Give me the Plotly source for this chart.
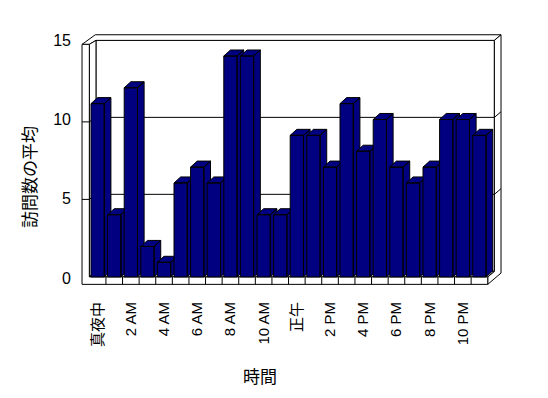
import plotly.graph_objects as go

# ---- data ----
hours = list(range(24))
avg_visits = [11, 4, 12, 2, 1, 6, 7, 6, 14, 14, 4, 4, 9, 9, 7, 11, 8, 10, 7, 6, 7, 10, 10, 9]
tick_pos = [0, 2, 4, 6, 8, 10, 12, 14, 16, 18, 20, 22]
tick_labels = ["真夜中", "2 AM", "4 AM", "6 AM", "8 AM", "10 AM", "正午",
               "2 PM", "4 PM", "6 PM", "8 PM", "10 PM"]
y_ticks = [0, 5, 10, 15]
x_title = "時間"
y_title = "訪問数の平均"

# ---- style / geometry ----
NAVY = "#000080"
W, H = 548, 398
OFF = 8  # page body margin
ML, MR, MT, MB = 78 - OFF, 42 + OFF, 28 - OFF, 106 + OFF
X_RANGE = [-1.183, 24.6]
Y_RANGE = [-0.87, 15.766]
FONT = "Liberation Sans, Noto Sans CJK JP, sans-serif"

N = len(hours)
XL, XR = -0.5, N - 0.5
LW, FT, VMAX = 0.44, 0.48, 15
DXZ, DYZ, Y0 = 0.40, 0.355, 0.08
BAR_HALF, BDX, BDY = 0.4, 0.40, 0.38


def P(x, v, z):
    zc = min(z, 1)
    return (x + DXZ * z, Y0 + DYZ * z + v * (0.977 - 0.007 * zc))


fig = go.Figure()


def face(pts, fill=True):
    xy = [P(*p) for p in pts]
    if fill:
        xy.append(xy[0])
    xs = [a for a, b in xy]
    ys = [b for a, b in xy]
    fig.add_trace(go.Scatter(
        x=xs, y=ys, mode="lines",
        fill="toself" if fill else None, fillcolor="white",
        line=dict(color="black", width=1),
        hoverinfo="skip", showlegend=False))


# back wall inner face
face([(XL, 0, 1), (XR, 0, 1), (XR, VMAX, 1), (XL, VMAX, 1)])
# top faces (left wall + back wall)
face([(XL - LW, VMAX, 0), (XL, VMAX, 0), (XL, VMAX, 1), (XR, VMAX, 1),
      (XR, VMAX, 2), (XL - LW, VMAX, 2)])
# right end face of floor + back wall
face([(XR, -FT, 0), (XR, 0, 0), (XR, 0, 1), (XR, VMAX, 1), (XR, VMAX, 2), (XR, -FT, 2)])
# left wall inner face
face([(XL, 0, 0), (XL, 0, 1), (XL, VMAX, 1), (XL, VMAX, 0)])
# floor top
face([(XL, 0, 0), (XR, 0, 0), (XR, 0, 1), (XL, 0, 1)])
# front faces (left wall + floor)
face([(XL - LW, -FT, 0), (XR, -FT, 0), (XR, 0, 0), (XL, 0, 0), (XL, VMAX, 0), (XL - LW, VMAX, 0)])

# gridlines wrapping the walls
for v in y_ticks:
    if 0 < v < VMAX:
        face([(XL - LW, v, 0), (XL, v, 0), (XL, v, 1), (XR, v, 1), (XR, v, 2)], fill=False)

# category ticks on floor front
tx, ty = [], []
for k in range(1, N):
    a = P(XL + k, 0, 0)
    b = P(XL + k, -FT, 0)
    tx += [a[0], b[0], None]
    ty += [a[1], b[1], None]
fig.add_trace(go.Scatter(x=tx, y=ty, mode="lines", line=dict(color="black", width=1),
                         hoverinfo="skip", showlegend=False))

# 3D bars
for i, v in zip(hours, avg_visits):
    l, r = i - BAR_HALF, i + BAR_HALF
    A = (l, Y0)
    B = (l, v)
    C = (l + BDX, v + BDY)
    D = (r + BDX, v + BDY)
    E = (r + BDX, Y0 + BDY)
    F = (r, Y0)
    G = (r, v)
    path = [A, B, C, D, E, F, G, D, G, B, G, F, A]
    fig.add_trace(go.Scatter(
        x=[p[0] for p in path], y=[p[1] for p in path], mode="lines",
        fill="toself", fillcolor=NAVY, line=dict(color="black", width=1),
        hoverinfo="skip", showlegend=False))

PW = W - ML - MR
PH = H - MT - MB


def paper_x(px):
    return (px - OFF - ML) / PW


def paper_y(py):
    return (H - MB - (py - OFF)) / PH


fig.update_layout(
    width=W, height=H, autosize=False,
    margin=dict(l=ML, r=MR, t=MT, b=MB),
    paper_bgcolor="white", plot_bgcolor="white",
    font=dict(family=FONT, color="black"),
    xaxis=dict(range=X_RANGE, showgrid=False, zeroline=False, showline=False,
               tickmode="array", tickvals=tick_pos, ticktext=tick_labels,
               tickangle=-90, tickfont=dict(size=15), ticks="", ticklabelstandoff=6),
    yaxis=dict(range=Y_RANGE, showgrid=False, zeroline=False, showline=False,
               tickmode="array", tickvals=y_ticks, tickfont=dict(size=16),
               ticks="", ticklabelstandoff=6),
    annotations=[
        dict(text=x_title, xref="paper", yref="paper", x=paper_x(260),
             y=paper_y(377), xanchor="center", yanchor="middle",
             showarrow=False, font=dict(size=17)),
        dict(text=y_title, xref="paper", yref="paper", x=paper_x(30),
             y=paper_y(177), xanchor="center", yanchor="middle",
             textangle=-90, showarrow=False, font=dict(size=17)),
    ],
)

fig.write_html("out.html")
